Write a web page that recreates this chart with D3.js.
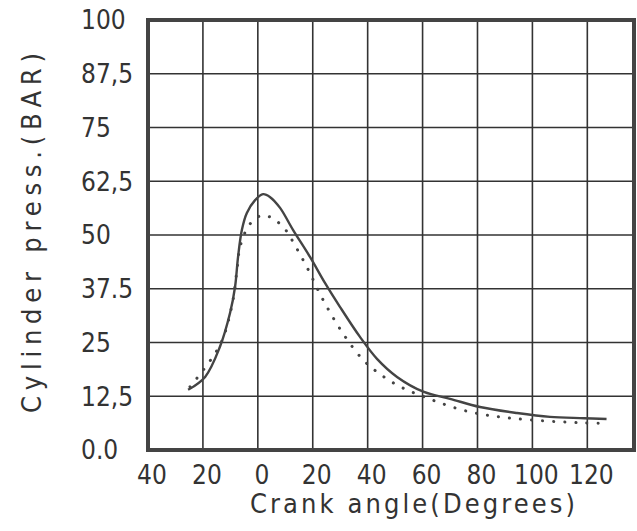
<!DOCTYPE html>
<html><head><meta charset="utf-8">
<script src="https://cdn.jsdelivr.net/npm/d3@7"></script>
<style>
html,body{margin:0;padding:0;background:#fff;}
svg{display:block;}
text{font-family:"Liberation Sans Narrow","DejaVu Sans Condensed","Liberation Sans",sans-serif;fill:#333;}
</style></head>
<body>
<svg id="c" width="637" height="531"></svg>
<script>
// ---- data ----
const xTicks = [-40, -20, 0, 20, 40, 60, 80, 100, 120];
const xTickLabels = ["40", "20", "0", "20", "40", "60", "80", "100", "120"];
const yTicks = [0, 12.5, 25, 37.5, 50, 62.5, 75, 87.5, 100];
const yTickLabels = ["0.0", "12,5", "25", "37.5", "50", "62,5", "75", "87,5", "100"];
const solidX = [-25.4,-19.2,-13.8,-10.1,-8.3,-7.2,-5.8,-4,-1,1.9,4.5,8.1,12.8,19,24.5,29.9,37.2,43.4,50.7,60.5,70,80.9,94.4,106.4,118.8,127];
const solidY = [14,17,24,31.9,37.9,44.9,51.2,55.1,58.1,59.5,58.8,56.3,51.2,44.9,38.8,33.3,26.3,21.2,17,13.5,11.9,10,8.6,7.7,7.4,7.2];
const dotX = [-24.7,-13.8,-9.4,-7.6,-6.5,-3.6,-1,1.5,4.4,7.3,10.6,13,17.9,23.7,30.6,38.3,45.9,53.2,60.5,67.1,75.1,82.7,90.7,99.1,108.9,118.8,127.9];
const dotY = [14.7,24.4,33.7,41.9,47.2,51.9,53.7,54.6,54.2,53,50.8,48.2,42.5,35,27.5,21,17,14.3,12.4,10.8,9.2,8.2,7.5,7,6.6,6.3,6.2];
const xTitle = "Crank angle(Degrees)";
const yTitle = "Cylinder press.(BAR)";

// ---- layout ----
const L = 148, R = 634, T = 20, B = 450;
const x = d3.scaleLinear().domain([-40, 137]).range([L, R]);
const y = d3.scaleLinear().domain([0, 100]).range([B, T]);
const svg = d3.select("#c");

// grid
const g = svg.append("g");
g.selectAll("line.v").data(xTicks.slice(1)).enter().append("line")
  .attr("x1", d => x(d)).attr("x2", d => x(d)).attr("y1", T).attr("y2", B)
  .attr("stroke", "#333").attr("stroke-width", 1.6);
g.selectAll("line.h").data(yTicks.slice(1, -1)).enter().append("line")
  .attr("x1", L).attr("x2", R).attr("y1", d => y(d)).attr("y2", d => y(d))
  .attr("stroke", "#333").attr("stroke-width", 1.6);
// frame
svg.append("rect").attr("x", L).attr("y", T).attr("width", R - L).attr("height", B - T)
  .attr("fill", "none").attr("stroke", "#444").attr("stroke-width", 4);

// curves
const line = d3.line().x(d => x(d[0])).y(d => y(d[1])).curve(d3.curveCatmullRom.alpha(0.5));
svg.append("path").datum(dotX.map((v, i) => [v, dotY[i]]))
  .attr("d", line).attr("fill", "none").attr("stroke", "#444")
  .attr("stroke-width", 3).attr("stroke-linecap", "round").attr("stroke-dasharray", "0.1 11");
svg.append("path").datum(solidX.map((v, i) => [v, solidY[i]]))
  .attr("d", line).attr("fill", "none").attr("stroke", "#444").attr("stroke-width", 2.4);

// y tick labels
svg.selectAll("text.yt").data(yTicks).enter().append("text")
  .attr("x", 81).attr("y", d => y(d)).attr("dy", "0.36em")
  .attr("font-size", 26).text((d, i) => yTickLabels[i]);
// x tick labels
svg.selectAll("text.xt").data(xTicks).enter().append("text")
  .attr("x", d => x(d) + 4).attr("y", 484).attr("text-anchor", "middle")
  .attr("font-size", 26).text((d, i) => xTickLabels[i]);

// titles
svg.append("text").attr("x", 250).attr("y", 513).attr("font-size", 27)
  .attr("textLength", 325).attr("lengthAdjust", "spacing").text(xTitle);
svg.append("text").attr("transform", "translate(41,413) rotate(-90)")
  .attr("font-size", 27).attr("textLength", 360).attr("lengthAdjust", "spacing").text(yTitle);
</script>
</body></html>
